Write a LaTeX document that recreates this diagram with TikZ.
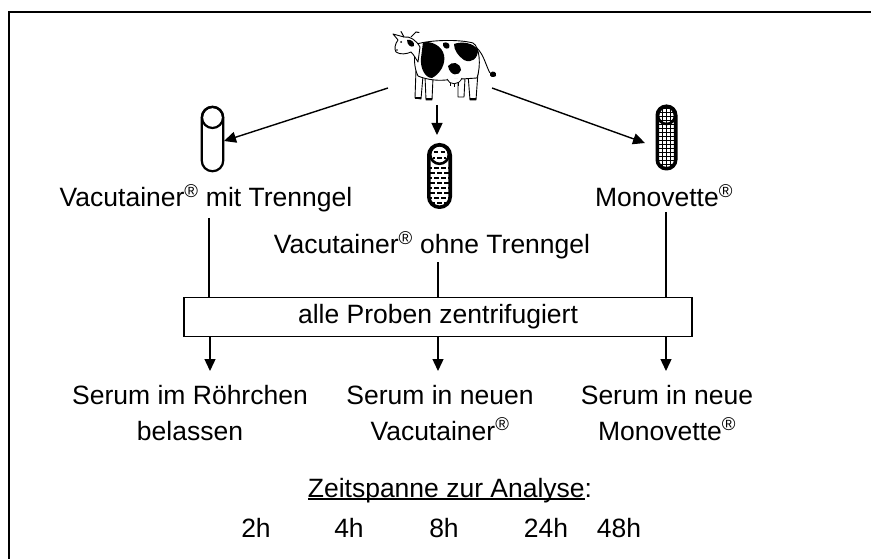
\documentclass[tikz,border=0pt]{standalone}
\usepackage{fontspec}
\setmainfont{Liberation Sans}
\usetikzlibrary{arrows.meta}
% registered mark, set raised and small
\newcommand\regmark{\textsuperscript{®}}
% underline sitting just below the baseline
\newcommand\lowuline[1]{\setbox0\hbox{#1}\rlap{\rule[-2.6pt]{\wd0}{1.3pt}}\box0}
\begin{document}
\begin{tikzpicture}[x=1pt,y=-1pt,
  txt/.style={font=\fontsize{26.5}{32}\selectfont, inner sep=0pt, anchor=base},
  conn/.style={line width=1.4pt},
  arr/.style={conn, -{Triangle[length=12pt,width=11pt]}},
  legpart/.style={fill=white, draw=black, line width=0.9pt, line join=round},
  tubebox/.style={minimum width=21pt, minimum height=64pt, inner sep=0pt},
  stepbox/.style={draw, line width=1.4pt, minimum width=508pt, minimum height=39pt,
    inner sep=0pt, font=\fontsize{26.5}{32}\selectfont},
  ]
\useasboundingbox (0,0) rectangle (871,559);

% outer frame (open at right and bottom)
\draw[line width=2pt] (9,559) -- (9,12) -- (871,12);

% ---------- cow ----------
\coordinate (cow) at (437,70);
\begin{scope}
  % legs
  \draw[legpart] (416,70) -- (415,98) -- (421,99) -- (423,76) -- cycle;
  \draw[legpart] (425,76) -- (426,100) -- (432,100) -- (433,78) -- cycle;
  \draw[legpart] (458,76) -- (458,97) -- (464,97) -- (465,78) -- cycle;
  \draw[legpart] (468,74) -- (470,100) -- (476,100) -- (478,72) -- cycle;
  \fill (415,97) rectangle (421,99.5);
  \fill (426,98) rectangle (432,100.5);
  \fill (470,98) rectangle (476,100.5);
  % tail
  \draw[line width=0.9pt] (477,48) .. controls (484,55) and (486,66) .. (490,73);
  \fill (490,73) .. controls (493,70) and (497,72) .. (496,76) .. controls (493,78) and (489,77) .. (490,73) -- cycle;
  % body
  \path[save path=\cowbody] (417,44) .. controls (430,40) and (458,39) .. (473,43)
     .. controls (480,47) and (481,66) .. (477,78) -- (446,80)
     .. controls (435,81) and (425,79) .. (418,76)
     .. controls (414,68) and (413,55) .. (417,44) -- cycle;
  \fill[white, use path=\cowbody];
  \begin{scope}
    \clip[use path=\cowbody];
    \fill (423,42) .. controls (432,41) and (442,46) .. (444,55)
       .. controls (446,64) and (440,74) .. (432,78)
       .. controls (425,78) and (420,68) .. (421,58) -- cycle;
    \fill (454,44) .. controls (462,41) and (474,43) .. (478,50)
       .. controls (478,58) and (472,64) .. (464,60)
       .. controls (458,56) and (454,50) .. (454,44) -- cycle;
    \fill (448,66) .. controls (452,61) and (460,62) .. (461,70)
       .. controls (460,76) and (450,77) .. (448,66) -- cycle;
    \fill (443,43) .. controls (447,41) and (451,44) .. (449,48)
       .. controls (446,50) and (442,47) .. (443,43) -- cycle;
  \end{scope}
  \draw[line width=0.9pt, use path=\cowbody];
  % udder
  \draw[fill=white, line width=0.8pt] (447,79) .. controls (449,85) and (459,86) .. (462,78);
  \draw[line width=0.8pt] (450,83) -- (450,86) (454,84) -- (454,87) (458,83) -- (458,86);
  % head
  \draw[fill=white, line width=0.9pt, line join=round] (420,47) .. controls (416,40) and (410,36) .. (404,37)
     -- (393,34) -- (398,40) .. controls (395,44) and (394,49) .. (396,52)
     .. controls (400,55) and (407,54) .. (411,52)
     .. controls (414,55) and (416,59) .. (418,62) -- cycle;
  \fill (407,40) .. controls (411,39) and (415,42) .. (414,46)
     .. controls (411,48) and (407,45) .. (407,40) -- cycle;
  \fill (401,42) circle (1);
  \fill (397,50) circle (0.9);
  % horns
  \draw[line width=1pt, line cap=round] (404,37) -- (401,31.5);
  \draw[line width=1pt, line cap=round] (411,37) -- (416,32) -- (419,32.5);
\end{scope}

% ---------- tubes ----------
% plain tube with separating gel
\node[tubebox] (tube1) at (212.5,139) {};
\draw[line width=2.2pt, rounded corners=10.5pt] (tube1.south west) rectangle (tube1.north east);
\draw[line width=2.2pt] (212.5,117.5) circle (10.5);

% tube without gel, liquid drawn as dashes
\node[tubebox, minimum height=62pt] (tube2) at (439.5,176) {};
\begin{scope}
  \clip[rounded corners=10.5pt] (tube2.south west) rectangle (tube2.north east);
  \foreach \yy [count=\i] in {168,173,...,205} {
    \pgfmathsetmacro\off{mod(\i,2)*3}
    \draw[line width=1.3pt, dash pattern=on 4.5pt off 2.5pt, dash phase=\off pt] (430,\yy) -- (450,\yy);
  }
  \draw[line width=1.3pt, dash pattern=on 4.5pt off 2.5pt] (433.5,152) -- (446,152);
  \draw[line width=1.3pt, dash pattern=on 4.5pt off 2.5pt, dash phase=3pt] (433,158) -- (446,158);
\end{scope}
\draw[line width=3.6pt, rounded corners=10.5pt] (tube2.south west) rectangle (tube2.north east);
\draw[line width=2.6pt] (439.5,154.5) circle (9.3);

% tube filled with a fine grid
\node[tubebox, minimum width=18pt, minimum height=62pt] (tube3) at (666.5,137.5) {};
\begin{scope}
  \clip[rounded corners=9pt] (tube3.south west) rectangle (tube3.north east);
  \foreach \xx in {658,662,...,676} \draw[line width=0.9pt] (\xx,105) -- (\xx,170);
  \foreach \yy in {108,112,...,170} \draw[line width=0.9pt] (656,\yy) -- (678,\yy);
\end{scope}
\draw[line width=3.6pt, rounded corners=9pt] (tube3.south west) rectangle (tube3.north east);
\draw[line width=2.6pt] (666.5,115.5) circle (8.5);

% arrows from the cow to the tubes
\coordinate (cowL) at (388,88);
\coordinate (cowM) at (437,105);
\coordinate (cowR) at (492,88);
\coordinate (inL) at (224,141);
\coordinate (inM) at (437,135);
\coordinate (inR) at (645,143);
\draw[arr] (cowL) -- (inL);
\draw[arr] (cowM) -- (inM);
\draw[arr] (cowR) -- (inR);

% ---------- tube labels ----------
\node[txt] (lab1) at (206,207) {Vacutainer\regmark{} mit Trenngel};
\node[txt] (lab2) at (432,254) {Vacutainer\regmark{} ohne Trenngel};
\node[txt] (lab3) at (664,207) {Monovette\regmark};

% ---------- centrifugation ----------
\node[stepbox] (box) at (438,317) {alle Proben zentrifugiert};

\coordinate (d1) at (209,218);
\coordinate (d2) at (438,262);
\coordinate (d3) at (666,212);
\draw[conn] (d1) -- (d1 |- box.north);
\draw[conn] (d2) -- (d2 |- box.north);
\draw[conn] (d3) -- (d3 |- box.north);

\coordinate (e1) at (210,371);
\coordinate (e2) at (438,371);
\coordinate (e3) at (666,371);
\draw[arr] (e1 |- box.south) -- (e1);
\draw[arr] (e2 |- box.south) -- (e2);
\draw[arr] (e3 |- box.south) -- (e3);

% ---------- results ----------
\node[txt] (r1a) at (190,404) {Serum im Röhrchen};
\node[txt] (r1b) at (190,440) {belassen};
\node[txt] (r2a) at (440,404) {Serum in neuen};
\node[txt] (r2b) at (440,440) {Vacutainer\regmark};
\node[txt] (r3a) at (667,404) {Serum in neue};
\node[txt] (r3b) at (667,440) {Monovette\regmark};

% ---------- time span ----------
\node[txt] (zeit) at (450,497) {\lowuline{Zeitspanne zur Analyse}:};
\node[txt] (h2)  at (256,537) {2h};
\node[txt] (h4)  at (349,537) {4h};
\node[txt] (h8)  at (444,537) {8h};
\node[txt] (h24) at (546,537) {24h};
\node[txt] (h48) at (619,537) {48h};
\end{tikzpicture}
\end{document}
